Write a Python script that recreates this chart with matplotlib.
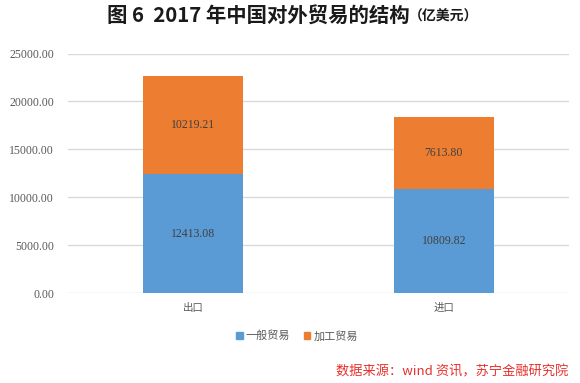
import numpy as np
import matplotlib.pyplot as plt
from matplotlib.patches import Patch

plt.rcParams['font.family'] = ['Noto Sans CJK SC', 'DejaVu Sans']

# data (亿美元)
categories = ['出口', '进口']
general_trade = [12413.08, 10809.82]
processing_trade = [10219.21, 7613.80]
series_names = ['一般贸易', '加工贸易']
y_ticks = [0, 5000, 10000, 15000, 20000, 25000]

blue = '#5B9BD5'
orange = '#ED7D31'
label_col = '#404040'
tick_col = '#595959'

fig = plt.figure(figsize=(5.8, 3.83), dpi=100)
ax = fig.add_axes([68 / 580, 1 - 293 / 383, 501 / 580, (293 - 53.5) / 383])

x = np.arange(len(categories))
w = 0.4
b1 = ax.bar(x, general_trade, w, color=blue, zorder=3)
b2 = ax.bar(x, processing_trade, w, bottom=general_trade, color=orange, zorder=3)

for i in range(len(categories)):
    ax.text(x[i], general_trade[i] / 2, f'{general_trade[i]:.2f}', ha='center', va='center',
            fontsize=8.5, family='Liberation Serif', color=label_col, zorder=4)
    ax.text(x[i], general_trade[i] + processing_trade[i] / 2, f'{processing_trade[i]:.2f}',
            ha='center', va='center', fontsize=8.5, family='Liberation Serif',
            color=label_col, zorder=4)

ax.set_xlim(-0.5, 1.5)
ax.set_ylim(0, 25000)
ax.set_yticks(y_ticks)
ax.set_yticklabels([f'{v:.2f}' for v in y_ticks], family='Liberation Serif', fontsize=8.5,
                   color=tick_col)
ax.set_xticks(x)
ax.set_xticklabels(categories, fontsize=7.5, color=tick_col)
ax.tick_params(axis='y', length=0, pad=10)
ax.tick_params(axis='x', length=0, pad=7)
ax.grid(axis='y', color='#d9d9d9', linewidth=1, zorder=0)
for s in ax.spines.values():
    s.set_visible(False)

# title
fig.text(107 / 580, 1 - 16 / 383, '图 6  2017 年中国对外贸易的结构', ha='left', va='center',
         fontsize=14.7, fontweight='bold', color='#1a1a1a')
fig.text(409 / 580, 1 - 17 / 383, '（亿美元）', ha='left', va='center', fontsize=10,
         fontweight='bold', color='#1a1a1a')

# legend
handles = [Patch(color=blue), Patch(color=orange)]
fig.legend(handles, series_names, loc='center', bbox_to_anchor=(297 / 580, 1 - 336 / 383),
           ncol=2, frameon=False, fontsize=8, handlelength=0.6, handleheight=0.6,
           handletextpad=0.3, columnspacing=1.2, labelcolor=tick_col)

# source
fig.text(568 / 580, 1 - 372 / 383, '数据来源：wind 资讯，苏宁金融研究院', ha='right', va='center',
         fontsize=9.5, style='italic', color='#e8302e')

fig.savefig('out.png', dpi=100)
